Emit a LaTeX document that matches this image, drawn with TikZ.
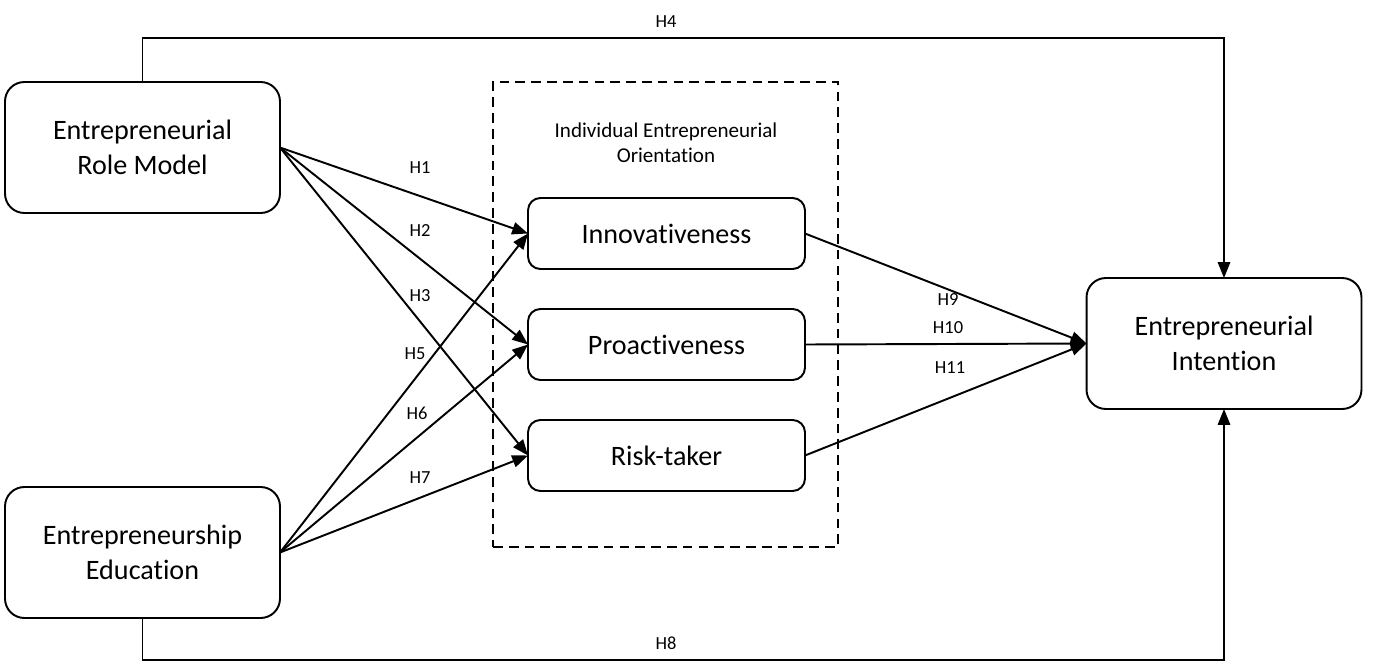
\documentclass[tikz,border=0pt]{standalone}
\usepackage{fontspec}
\setmainfont{Carlito}[Ligatures=NoCommon]
\usetikzlibrary{arrows.meta}
\begin{document}
\begin{tikzpicture}[x=0.02cm,y=-0.02cm,
  bigbox/.style={draw, line width=1.1pt, rounded corners=11pt, inner sep=0pt, outer sep=0pt,
    minimum width=5.5cm, minimum height=2.62cm, align=center, font=\fontsize{16}{20}\selectfont},
  smallbox/.style={draw, line width=1.1pt, rounded corners=7pt, inner sep=0pt, outer sep=0pt,
    minimum width=5.54cm, minimum height=1.42cm, font=\fontsize{16}{20}\selectfont},
  grp/.style={draw, dashed, dash pattern=on 5.5pt off 3.5pt, line width=1.1pt, inner sep=0pt,
    minimum width=6.9cm, minimum height=9.3cm},
  arr/.style={line width=1.1pt, -{Triangle[length=9pt,width=7pt]}},
  lbl/.style={font=\fontsize{10.5}{12}\selectfont, inner sep=1pt},
  grplbl/.style={font=\fontsize{12}{14.5}\selectfont, align=center, inner sep=0pt}]
\useasboundingbox (0,0) rectangle (1383,666);
\node[grp] (ieo) at (665.5,314.5) {};
\node[grplbl] (ieol) at (666,142.5) {Individual Entrepreneurial\\Orientation};
\node[bigbox] (rm) at (142.5,147.5) {Entrepreneurial\\Role Model};
\node[bigbox] (ee) at (142.5,552.5) {Entrepreneurship\\Education};
\node[bigbox] (ei) at (1224,343.5) {Entrepreneurial\\Intention};
\node[smallbox] (inn) at (666.5,233.5) {Innovativeness};
\node[smallbox] (pro) at (666.5,344.5) {Proactiveness};
\node[smallbox] (risk) at (666.5,455.5) {Risk-taker};
\coordinate (top) at (666,38);
\coordinate (bot) at (666,660);
\draw[arr] (rm.north) |- (top) -| (ei.north);
\draw[arr] (ee.south) |- (bot) -| (ei.south);
\draw[arr] (rm.east) -- (inn.west);
\draw[arr] (rm.east) -- (pro.west);
\draw[arr] (rm.east) -- (risk.west);
\draw[arr] (ee.east) -- (inn.west);
\draw[arr] (ee.east) -- (pro.west);
\draw[arr] (ee.east) -- (risk.west);
\draw[arr] (inn.east) -- (ei.west);
\draw[arr] (pro.east) -- (ei.west);
\draw[arr] (risk.east) -- (ei.west);
\node[lbl] (h4) at (666,22) {H4};
\node[lbl] (h8) at (666,643) {H8};
\node[lbl] (h1) at (420,168) {H1};
\node[lbl] (h2) at (420,231) {H2};
\node[lbl] (h3) at (420,296) {H3};
\node[lbl] (h5) at (415,354) {H5};
\node[lbl] (h6) at (417,413) {H6};
\node[lbl] (h7) at (420,478) {H7};
\node[lbl] (h9) at (948,300) {H9};
\node[lbl] (h10) at (948,328) {H10};
\node[lbl] (h11) at (950,368) {H11};
\end{tikzpicture}
\end{document}
